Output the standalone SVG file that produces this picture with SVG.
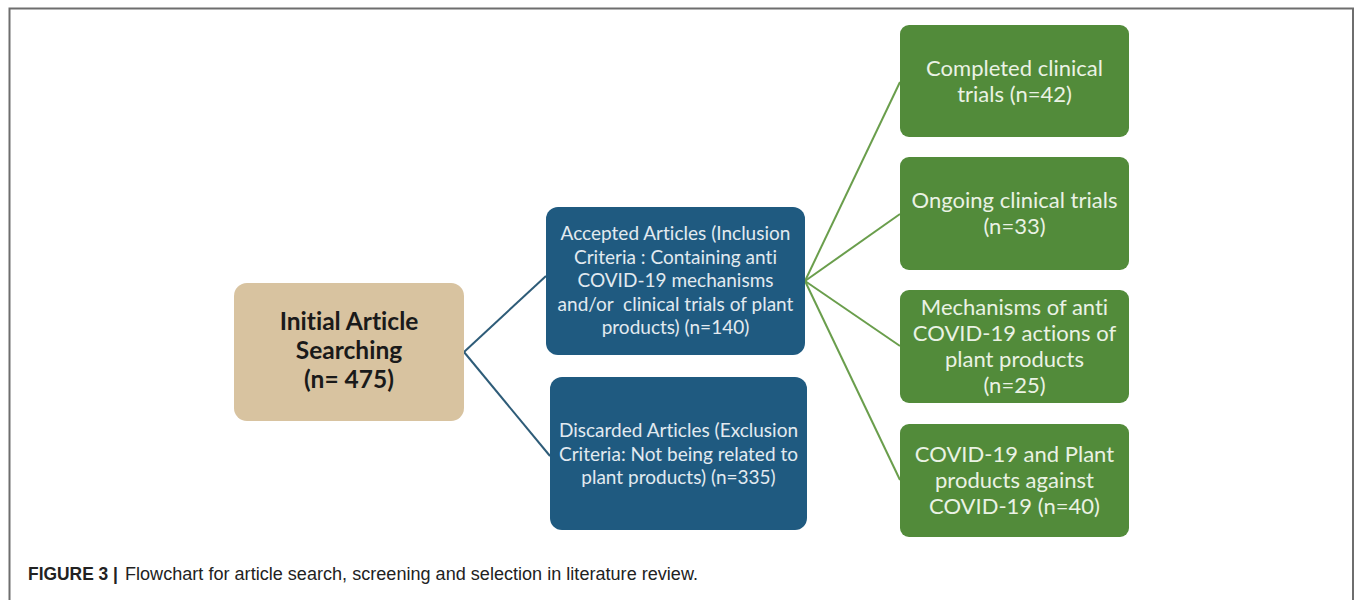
<svg xmlns="http://www.w3.org/2000/svg" width="1355" height="600" viewBox="0 0 1355 600">
<style>
text{font-variant-ligatures:none;font-feature-settings:"liga" 0,"dlig" 0,"calt" 0;letter-spacing:0.01px}
.blue{fill:#1f5a80}
.green{fill:#528b3a}
.tan{fill:#d8c3a0}
.bt{font-family:Lato,"Open Sans",sans-serif;font-size:19px;fill:#e2eaf0;text-anchor:middle}
.gt{font-family:Lato,"Open Sans",sans-serif;font-size:22px;fill:#eaf2e4;text-anchor:middle}
.tt{font-family:Lato,"Open Sans",sans-serif;font-size:24.5px;font-weight:bold;fill:#1a1a1a;text-anchor:middle}
.cap{font-family:"Liberation Sans",Arial,sans-serif;font-size:17.5px;fill:#222}
</style>
<rect width="1355" height="600" fill="#fff"/>
<path d="M9.5 600 V8.5 H1353 V600" fill="none" stroke="#6e6e6e" stroke-width="2"/>
<g id="connectors" fill="none" stroke-width="2">
<g stroke="#2e5c78">
<path d="M464 352 L546 276"/>
<path d="M464 352 L550 456"/>
</g>
<g stroke="#6a9e4c">
<path d="M805 281 L900 82"/>
<path d="M805 281 L900 214"/>
<path d="M805 281 L900 346"/>
<path d="M805 281 L900 480"/>
</g>
</g>
<g id="initial">
<rect class="tan" x="234" y="283" width="230" height="138" rx="13"/>
<text class="tt" x="349" y="330">Initial Article</text>
<text class="tt" x="349" y="359">Searching</text>
<text class="tt" x="349" y="388">(n= 475)</text>
</g>
<g id="accepted">
<rect class="blue" x="546" y="207" width="259" height="148" rx="12"/>
<text class="bt" x="675.5" y="240">Accepted Articles (Inclusion</text>
<text class="bt" x="675.5" y="263.5">Criteria : Containing anti</text>
<text class="bt" x="675.5" y="287">COVID-19 mechanisms</text>
<text class="bt" x="675.5" y="310.5" xml:space="preserve">and/or  clinical trials of plant</text>
<text class="bt" x="675.5" y="334">products) (n=140)</text>
</g>
<g id="discarded">
<rect class="blue" x="550" y="377" width="257" height="153" rx="12"/>
<text class="bt" x="678.5" y="437">Discarded Articles (Exclusion</text>
<text class="bt" x="678.5" y="460.5">Criteria: Not being related to</text>
<text class="bt" x="678.5" y="484">plant products) (n=335)</text>
</g>
<g id="completed">
<rect class="green" x="900" y="25" width="229" height="112" rx="9"/>
<text class="gt" x="1014.5" y="76">Completed clinical</text>
<text class="gt" x="1014.5" y="102">trials (n=42)</text>
</g>
<g id="ongoing">
<rect class="green" x="900" y="157" width="229" height="113" rx="9"/>
<text class="gt" x="1014.5" y="208">Ongoing clinical trials</text>
<text class="gt" x="1014.5" y="234">(n=33)</text>
</g>
<g id="mechanisms">
<rect class="green" x="900" y="290" width="229" height="113" rx="9"/>
<text class="gt" x="1014.5" y="315">Mechanisms of anti</text>
<text class="gt" x="1014.5" y="341">COVID-19 actions of</text>
<text class="gt" x="1014.5" y="367">plant products</text>
<text class="gt" x="1014.5" y="393">(n=25)</text>
</g>
<g id="covid">
<rect class="green" x="900" y="424" width="229" height="113" rx="9"/>
<text class="gt" x="1014.5" y="462">COVID-19 and Plant</text>
<text class="gt" x="1014.5" y="488">products against</text>
<text class="gt" x="1014.5" y="514">COVID-19 (n=40)</text>
</g>
<text class="cap" x="28" y="580" font-weight="bold" textLength="90" lengthAdjust="spacingAndGlyphs">FIGURE 3 |</text>
<text class="cap" x="125" y="580" textLength="573" lengthAdjust="spacingAndGlyphs">Flowchart for article search, screening and selection in literature review.</text>
</svg>
